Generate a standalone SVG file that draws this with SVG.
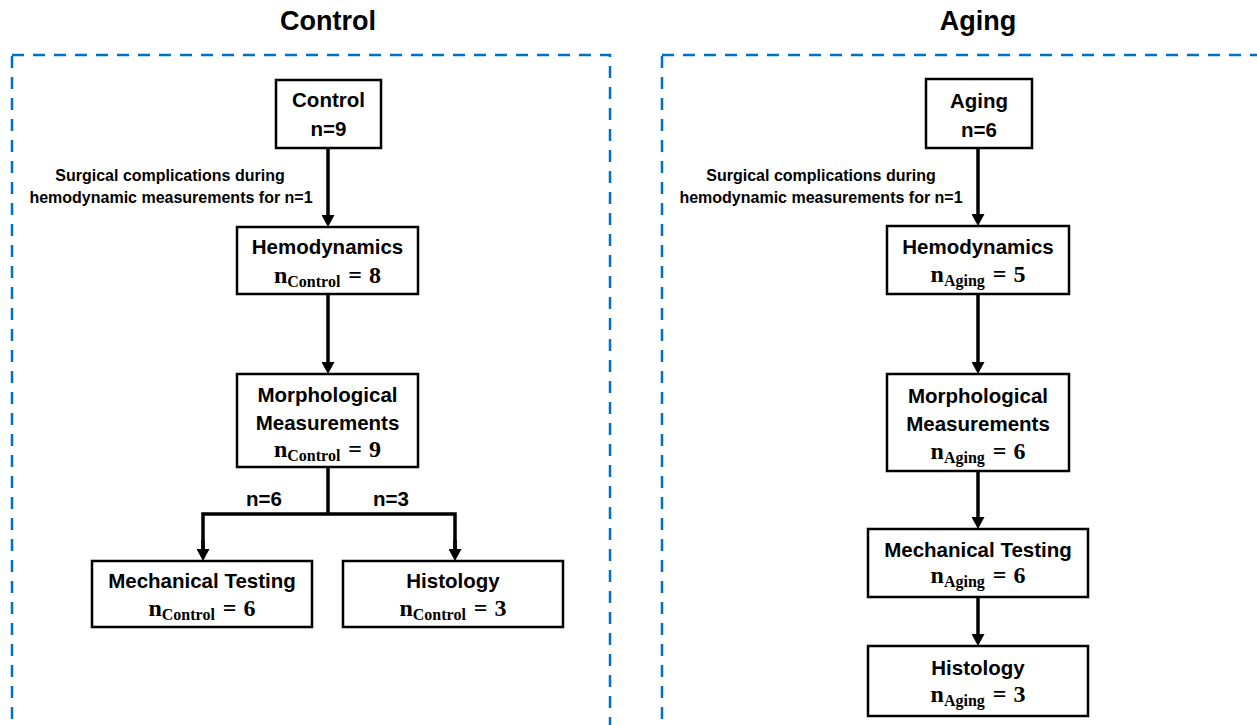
<svg xmlns="http://www.w3.org/2000/svg" width="1257" height="725" viewBox="0 0 1257 725">
  <style>
    .panel { fill: none; stroke: #0070C0; stroke-width: 2.5; stroke-dasharray: 12 9; }
    .title { font-family: "Liberation Sans", Arial, sans-serif; font-weight: bold; font-size: 27px; fill: #000; text-anchor: middle; }
    .box { fill: #fff; stroke: #000; stroke-width: 2.5; }
    .lbl { font-family: "Liberation Sans", Arial, sans-serif; font-weight: bold; font-size: 20.5px; fill: #000; text-anchor: middle; }
    .note { font-family: "Liberation Sans", Arial, sans-serif; font-weight: bold; font-size: 16px; fill: #000; text-anchor: middle; }
    .math { font-family: "Liberation Serif", "Times New Roman", serif; font-weight: bold; font-size: 24px; fill: #000; text-anchor: middle; }
    .sub { font-size: 16px; }
    .conn { fill: none; stroke: #000; stroke-width: 3.5; }
  </style>
  <defs>
    <marker id="arrow" markerUnits="userSpaceOnUse" viewBox="0 0 12 13" refX="3" refY="6.5" markerWidth="12" markerHeight="13" orient="auto">
      <path d="M0,0 L12,6.5 L0,13 z" fill="#000"/>
    </marker>
  </defs>

  <rect fill="#fff" x="0" y="0" width="1257" height="725"/>

  <!-- panels -->
  <g id="panel-control">
    <rect class="panel" x="12" y="55" width="598" height="700"/>
    <text class="title" x="328" y="30">Control</text>
  </g>
  <g id="panel-aging">
    <rect class="panel" x="662" y="55" width="640" height="700"/>
    <text class="title" x="978" y="30">Aging</text>
  </g>

  <!-- connectors -->
  <g id="connectors">
    <line class="conn" x1="328" y1="148" x2="328" y2="218" marker-end="url(#arrow)"/>
    <line class="conn" x1="328" y1="294" x2="328" y2="365" marker-end="url(#arrow)"/>
    <polyline class="conn" points="328,467 328,514"/>
    <polyline class="conn" points="203,552 203,514 455,514 455,552"/>
    <line class="conn" x1="203" y1="540" x2="203" y2="552" marker-end="url(#arrow)"/>
    <line class="conn" x1="455" y1="540" x2="455" y2="552" marker-end="url(#arrow)"/>
    <text class="lbl" x="264" y="506">n=6</text>
    <text class="lbl" x="391" y="506">n=3</text>
    <text class="note" x="170" y="181">Surgical complications during</text>
    <text class="note" x="171" y="203">hemodynamic measurements for n=1</text>

    <line class="conn" x1="978" y1="148" x2="978" y2="217" marker-end="url(#arrow)"/>
    <line class="conn" x1="978" y1="294" x2="978" y2="365" marker-end="url(#arrow)"/>
    <line class="conn" x1="978" y1="471" x2="978" y2="520" marker-end="url(#arrow)"/>
    <line class="conn" x1="978" y1="597" x2="978" y2="637" marker-end="url(#arrow)"/>
    <text class="note" x="821" y="181">Surgical complications during</text>
    <text class="note" x="821" y="203">hemodynamic measurements for n=1</text>
  </g>

  <!-- Control nodes -->
  <g id="c-start">
    <rect class="box" x="276" y="80" width="105" height="68"/>
    <text class="lbl" x="328.5" y="107">Control</text>
    <text class="lbl" x="328.5" y="136">n=9</text>
  </g>
  <g id="c-hemo">
    <rect class="box" x="237" y="227" width="181" height="67"/>
    <text class="lbl" x="327.5" y="254">Hemodynamics</text>
    <text class="math" x="327.5" y="283">n<tspan class="sub" dy="4">Control</tspan><tspan dy="-4" dx="8">=</tspan><tspan dx="7">8</tspan></text>
  </g>
  <g id="c-morph">
    <rect class="box" x="237" y="374" width="181" height="93"/>
    <text class="lbl" x="327.5" y="402">Morphological</text>
    <text class="lbl" x="327.5" y="430">Measurements</text>
    <text class="math" x="327.5" y="457">n<tspan class="sub" dy="4">Control</tspan><tspan dy="-4" dx="8">=</tspan><tspan dx="7">9</tspan></text>
  </g>
  <g id="c-mech">
    <rect class="box" x="92" y="561" width="220" height="66"/>
    <text class="lbl" x="202" y="588">Mechanical Testing</text>
    <text class="math" x="202" y="616">n<tspan class="sub" dy="4">Control</tspan><tspan dy="-4" dx="8">=</tspan><tspan dx="7">6</tspan></text>
  </g>
  <g id="c-hist">
    <rect class="box" x="343" y="561" width="220" height="66"/>
    <text class="lbl" x="453" y="588">Histology</text>
    <text class="math" x="453" y="616">n<tspan class="sub" dy="4">Control</tspan><tspan dy="-4" dx="8">=</tspan><tspan dx="7">3</tspan></text>
  </g>

  <!-- Aging nodes -->
  <g id="a-start">
    <rect class="box" x="926" y="79" width="106" height="69"/>
    <text class="lbl" x="979" y="108">Aging</text>
    <text class="lbl" x="979" y="137">n=6</text>
  </g>
  <g id="a-hemo">
    <rect class="box" x="887" y="226" width="182" height="68"/>
    <text class="lbl" x="978" y="254">Hemodynamics</text>
    <text class="math" x="978" y="282">n<tspan class="sub" dy="4">Aging</tspan><tspan dy="-4" dx="8">=</tspan><tspan dx="7">5</tspan></text>
  </g>
  <g id="a-morph">
    <rect class="box" x="887" y="374" width="182" height="97"/>
    <text class="lbl" x="978" y="403">Morphological</text>
    <text class="lbl" x="978" y="431">Measurements</text>
    <text class="math" x="978" y="459">n<tspan class="sub" dy="4">Aging</tspan><tspan dy="-4" dx="8">=</tspan><tspan dx="7">6</tspan></text>
  </g>
  <g id="a-mech">
    <rect class="box" x="868" y="529" width="220" height="68"/>
    <text class="lbl" x="978" y="557">Mechanical Testing</text>
    <text class="math" x="978" y="583">n<tspan class="sub" dy="4">Aging</tspan><tspan dy="-4" dx="8">=</tspan><tspan dx="7">6</tspan></text>
  </g>
  <g id="a-hist">
    <rect class="box" x="868" y="646" width="220" height="70"/>
    <text class="lbl" x="978" y="675">Histology</text>
    <text class="math" x="978" y="702">n<tspan class="sub" dy="4">Aging</tspan><tspan dy="-4" dx="8">=</tspan><tspan dx="7">3</tspan></text>
  </g>
</svg>
